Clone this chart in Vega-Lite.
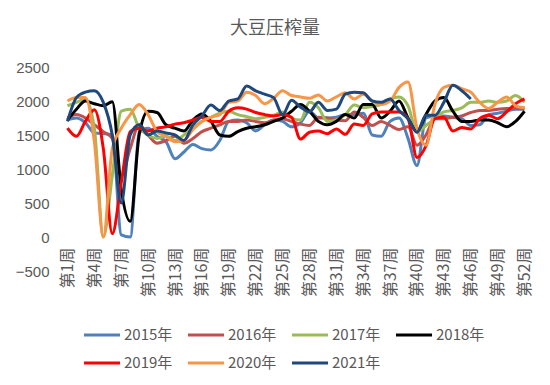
{
  "$schema": "https://vega.github.io/schema/vega-lite/v6.json",
  "width": 466,
  "height": 204,
  "autosize": {"type": "none"},
  "padding": {"left": 63, "top": 67, "right": 21, "bottom": 114},
  "background": "white",
  "title": {"text": "大豆压榨量", "fontSize": 18, "font": "Noto Sans CJK SC", "fontWeight": "normal", "color": "#595959", "anchor": "middle", "frame": "group", "dx": -21, "offset": 22},
  "config": {"view": {"stroke": null}, "font": "Noto Sans CJK SC"},
  "data": {"values": [
    {"s":"2015年","w":1,"v":1720},{"s":"2015年","w":2,"v":1750},{"s":"2015年","w":3,"v":1680},{"s":"2015年","w":4,"v":1530},{"s":"2015年","w":5,"v":1520},{"s":"2015年","w":6,"v":1500},{"s":"2015年","w":7,"v":30},{"s":"2015年","w":8,"v":0},{"s":"2015年","w":9,"v":1550},{"s":"2015年","w":10,"v":1600},
    {"s":"2015年","w":11,"v":1480},{"s":"2015年","w":12,"v":1400},{"s":"2015年","w":13,"v":1150},{"s":"2015年","w":14,"v":1250},{"s":"2015年","w":15,"v":1360},{"s":"2015年","w":16,"v":1300},{"s":"2015年","w":17,"v":1280},{"s":"2015年","w":18,"v":1420},{"s":"2015年","w":19,"v":1700},{"s":"2015年","w":20,"v":1720},
    {"s":"2015年","w":21,"v":1680},{"s":"2015年","w":22,"v":1560},{"s":"2015年","w":23,"v":1650},{"s":"2015年","w":24,"v":1720},{"s":"2015年","w":25,"v":1700},{"s":"2015年","w":26,"v":1620},{"s":"2015年","w":27,"v":1680},{"s":"2015年","w":28,"v":1850},{"s":"2015年","w":29,"v":1750},{"s":"2015年","w":30,"v":1750},
    {"s":"2015年","w":31,"v":1760},{"s":"2015年","w":32,"v":1800},{"s":"2015年","w":33,"v":1800},{"s":"2015年","w":34,"v":1820},{"s":"2015年","w":35,"v":1500},{"s":"2015年","w":36,"v":1480},{"s":"2015年","w":37,"v":1700},{"s":"2015年","w":38,"v":1750},{"s":"2015年","w":39,"v":1450},{"s":"2015年","w":40,"v":1050},
    {"s":"2015年","w":41,"v":1750},{"s":"2015年","w":42,"v":1780},{"s":"2015年","w":43,"v":1780},{"s":"2015年","w":44,"v":1760},{"s":"2015年","w":45,"v":1740},{"s":"2015年","w":46,"v":1640},{"s":"2015年","w":47,"v":1650},{"s":"2015年","w":48,"v":1800},{"s":"2015年","w":49,"v":1820},{"s":"2015年","w":50,"v":1850},
    {"s":"2015年","w":51,"v":1880},{"s":"2015年","w":52,"v":1880},

    {"s":"2016年","w":1,"v":1750},{"s":"2016年","w":2,"v":1800},{"s":"2016年","w":3,"v":1750},{"s":"2016年","w":4,"v":1650},{"s":"2016年","w":5,"v":1550},{"s":"2016年","w":6,"v":1450},{"s":"2016年","w":7,"v":900},{"s":"2016年","w":8,"v":1300},{"s":"2016年","w":9,"v":1650},{"s":"2016年","w":10,"v":1500},
    {"s":"2016年","w":11,"v":1380},{"s":"2016年","w":12,"v":1420},{"s":"2016年","w":13,"v":1480},{"s":"2016年","w":14,"v":1380},{"s":"2016年","w":15,"v":1450},{"s":"2016年","w":16,"v":1550},{"s":"2016年","w":17,"v":1600},{"s":"2016年","w":18,"v":1650},{"s":"2016年","w":19,"v":1700},{"s":"2016年","w":20,"v":1700},
    {"s":"2016年","w":21,"v":1720},{"s":"2016年","w":22,"v":1700},{"s":"2016年","w":23,"v":1680},{"s":"2016年","w":24,"v":1720},{"s":"2016年","w":25,"v":1740},{"s":"2016年","w":26,"v":1700},{"s":"2016年","w":27,"v":1660},{"s":"2016年","w":28,"v":1640},{"s":"2016年","w":29,"v":1760},{"s":"2016年","w":30,"v":1750},
    {"s":"2016年","w":31,"v":1720},{"s":"2016年","w":32,"v":1710},{"s":"2016年","w":33,"v":1840},{"s":"2016年","w":34,"v":1760},{"s":"2016年","w":35,"v":1640},{"s":"2016年","w":36,"v":1700},{"s":"2016年","w":37,"v":1640},{"s":"2016年","w":38,"v":1580},{"s":"2016年","w":39,"v":1620},{"s":"2016年","w":40,"v":1350},
    {"s":"2016年","w":41,"v":1500},{"s":"2016年","w":42,"v":1740},{"s":"2016年","w":43,"v":1740},{"s":"2016年","w":44,"v":1760},{"s":"2016年","w":45,"v":1780},{"s":"2016年","w":46,"v":1830},{"s":"2016年","w":47,"v":1860},{"s":"2016年","w":48,"v":1860},{"s":"2016年","w":49,"v":1880},{"s":"2016年","w":50,"v":1890},
    {"s":"2016年","w":51,"v":1890},{"s":"2016年","w":52,"v":1900},

    {"s":"2017年","w":1,"v":1930},{"s":"2017年","w":2,"v":1980},{"s":"2017年","w":3,"v":2030},{"s":"2017年","w":4,"v":1600},{"s":"2017年","w":5,"v":0},{"s":"2017年","w":6,"v":900},{"s":"2017年","w":7,"v":1850},{"s":"2017年","w":8,"v":1880},{"s":"2017年","w":9,"v":1600},{"s":"2017年","w":10,"v":1500},
    {"s":"2017年","w":11,"v":1450},{"s":"2017年","w":12,"v":1480},{"s":"2017年","w":13,"v":1420},{"s":"2017年","w":14,"v":1500},{"s":"2017年","w":15,"v":1600},{"s":"2017年","w":16,"v":1700},{"s":"2017年","w":17,"v":1760},{"s":"2017年","w":18,"v":1820},{"s":"2017年","w":19,"v":1850},{"s":"2017年","w":20,"v":1800},
    {"s":"2017年","w":21,"v":1770},{"s":"2017年","w":22,"v":1740},{"s":"2017年","w":23,"v":1760},{"s":"2017年","w":24,"v":1790},{"s":"2017年","w":25,"v":1840},{"s":"2017年","w":26,"v":1750},{"s":"2017年","w":27,"v":1720},{"s":"2017年","w":28,"v":1980},{"s":"2017年","w":29,"v":1900},{"s":"2017年","w":30,"v":1700},
    {"s":"2017年","w":31,"v":1720},{"s":"2017年","w":32,"v":1800},{"s":"2017年","w":33,"v":1940},{"s":"2017年","w":34,"v":1900},{"s":"2017年","w":35,"v":1920},{"s":"2017年","w":36,"v":1950},{"s":"2017年","w":37,"v":2030},{"s":"2017年","w":38,"v":2060},{"s":"2017年","w":39,"v":1930},{"s":"2017年","w":40,"v":1540},
    {"s":"2017年","w":41,"v":1640},{"s":"2017年","w":42,"v":1740},{"s":"2017年","w":43,"v":1840},{"s":"2017年","w":44,"v":1860},{"s":"2017年","w":45,"v":1900},{"s":"2017年","w":46,"v":1980},{"s":"2017年","w":47,"v":1980},{"s":"2017年","w":48,"v":2000},{"s":"2017年","w":49,"v":1980},{"s":"2017年","w":50,"v":2000},
    {"s":"2017年","w":51,"v":2080},{"s":"2017年","w":52,"v":1980},

    {"s":"2018年","w":1,"v":1720},{"s":"2018年","w":2,"v":1880},{"s":"2018年","w":3,"v":2000},{"s":"2018年","w":4,"v":1960},{"s":"2018年","w":5,"v":1930},{"s":"2018年","w":6,"v":1990},{"s":"2018年","w":7,"v":700},{"s":"2018年","w":8,"v":230},{"s":"2018年","w":9,"v":1500},{"s":"2018年","w":10,"v":1850},
    {"s":"2018年","w":11,"v":1830},{"s":"2018年","w":12,"v":1650},{"s":"2018年","w":13,"v":1600},{"s":"2018年","w":14,"v":1560},{"s":"2018年","w":15,"v":1720},{"s":"2018年","w":16,"v":1810},{"s":"2018年","w":17,"v":1700},{"s":"2018年","w":18,"v":1500},{"s":"2018年","w":19,"v":1480},{"s":"2018年","w":20,"v":1550},
    {"s":"2018年","w":21,"v":1600},{"s":"2018年","w":22,"v":1620},{"s":"2018年","w":23,"v":1650},{"s":"2018年","w":24,"v":1700},{"s":"2018年","w":25,"v":1750},{"s":"2018年","w":26,"v":1850},{"s":"2018年","w":27,"v":1950},{"s":"2018年","w":28,"v":1850},{"s":"2018年","w":29,"v":1700},{"s":"2018年","w":30,"v":1650},
    {"s":"2018年","w":31,"v":1700},{"s":"2018年","w":32,"v":1800},{"s":"2018年","w":33,"v":1750},{"s":"2018年","w":34,"v":1950},{"s":"2018年","w":35,"v":1950},{"s":"2018年","w":36,"v":1750},{"s":"2018年","w":37,"v":1850},{"s":"2018年","w":38,"v":2000},{"s":"2018年","w":39,"v":1750},{"s":"2018年","w":40,"v":1550},
    {"s":"2018年","w":41,"v":1800},{"s":"2018年","w":42,"v":2000},{"s":"2018年","w":43,"v":2050},{"s":"2018年","w":44,"v":1850},{"s":"2018年","w":45,"v":1700},{"s":"2018年","w":46,"v":1700},{"s":"2018年","w":47,"v":1720},{"s":"2018年","w":48,"v":1720},{"s":"2018年","w":49,"v":1680},{"s":"2018年","w":50,"v":1620},
    {"s":"2018年","w":51,"v":1700},{"s":"2018年","w":52,"v":1850},

    {"s":"2019年","w":1,"v":1600},{"s":"2019年","w":2,"v":1480},{"s":"2019年","w":3,"v":1700},{"s":"2019年","w":4,"v":1870},{"s":"2019年","w":5,"v":1300},{"s":"2019年","w":6,"v":50},{"s":"2019年","w":7,"v":800},{"s":"2019年","w":8,"v":1550},{"s":"2019年","w":9,"v":1600},{"s":"2019年","w":10,"v":1560},
    {"s":"2019年","w":11,"v":1600},{"s":"2019年","w":12,"v":1620},{"s":"2019年","w":13,"v":1660},{"s":"2019年","w":14,"v":1680},{"s":"2019年","w":15,"v":1720},{"s":"2019年","w":16,"v":1760},{"s":"2019年","w":17,"v":1700},{"s":"2019年","w":18,"v":1700},{"s":"2019年","w":19,"v":1850},{"s":"2019年","w":20,"v":1900},
    {"s":"2019年","w":21,"v":1880},{"s":"2019年","w":22,"v":1830},{"s":"2019年","w":23,"v":1800},{"s":"2019年","w":24,"v":1780},{"s":"2019年","w":25,"v":1800},{"s":"2019年","w":26,"v":1760},{"s":"2019年","w":27,"v":1440},{"s":"2019年","w":28,"v":1540},{"s":"2019年","w":29,"v":1560},{"s":"2019年","w":30,"v":1520},
    {"s":"2019年","w":31,"v":1590},{"s":"2019年","w":32,"v":1510},{"s":"2019年","w":33,"v":1660},{"s":"2019年","w":34,"v":1640},{"s":"2019年","w":35,"v":1810},{"s":"2019年","w":36,"v":1840},{"s":"2019年","w":37,"v":1840},{"s":"2019年","w":38,"v":1840},{"s":"2019年","w":39,"v":1740},{"s":"2019年","w":40,"v":1170},
    {"s":"2019年","w":41,"v":1340},{"s":"2019年","w":42,"v":1740},{"s":"2019年","w":43,"v":1760},{"s":"2019年","w":44,"v":1560},{"s":"2019年","w":45,"v":1610},{"s":"2019年","w":46,"v":1590},{"s":"2019年","w":47,"v":1740},{"s":"2019年","w":48,"v":1790},{"s":"2019年","w":49,"v":1740},{"s":"2019年","w":50,"v":1840},
    {"s":"2019年","w":51,"v":1960},{"s":"2019年","w":52,"v":2030},

    {"s":"2020年","w":1,"v":2000},{"s":"2020年","w":2,"v":2050},{"s":"2020年","w":3,"v":2050},{"s":"2020年","w":4,"v":1400},{"s":"2020年","w":5,"v":0},{"s":"2020年","w":6,"v":1300},{"s":"2020年","w":7,"v":1600},{"s":"2020年","w":8,"v":1800},{"s":"2020年","w":9,"v":1950},{"s":"2020年","w":10,"v":1800},
    {"s":"2020年","w":11,"v":1550},{"s":"2020年","w":12,"v":1480},{"s":"2020年","w":13,"v":1400},{"s":"2020年","w":14,"v":1420},{"s":"2020年","w":15,"v":1580},{"s":"2020年","w":16,"v":1700},{"s":"2020年","w":17,"v":1760},{"s":"2020年","w":18,"v":1800},{"s":"2020年","w":19,"v":1980},{"s":"2020年","w":20,"v":2000},
    {"s":"2020年","w":21,"v":2130},{"s":"2020年","w":22,"v":2080},{"s":"2020年","w":23,"v":1960},{"s":"2020年","w":24,"v":2040},{"s":"2020年","w":25,"v":2150},{"s":"2020年","w":26,"v":2080},{"s":"2020年","w":27,"v":2060},{"s":"2020年","w":28,"v":2040},{"s":"2020年","w":29,"v":2090},{"s":"2020年","w":30,"v":2000},
    {"s":"2020年","w":31,"v":2060},{"s":"2020年","w":32,"v":2120},{"s":"2020年","w":33,"v":2030},{"s":"2020年","w":34,"v":2100},{"s":"2020年","w":35,"v":2000},{"s":"2020年","w":36,"v":1950},{"s":"2020年","w":37,"v":2000},{"s":"2020年","w":38,"v":2200},{"s":"2020年","w":39,"v":2280},{"s":"2020年","w":40,"v":1600},
    {"s":"2020年","w":41,"v":1350},{"s":"2020年","w":42,"v":1950},{"s":"2020年","w":43,"v":2200},{"s":"2020年","w":44,"v":2230},{"s":"2020年","w":45,"v":2180},{"s":"2020年","w":46,"v":2130},{"s":"2020年","w":47,"v":1980},{"s":"2020年","w":48,"v":1890},{"s":"2020年","w":49,"v":1980},{"s":"2020年","w":50,"v":2060},
    {"s":"2020年","w":51,"v":1930},{"s":"2020年","w":52,"v":1900},

    {"s":"2021年","w":1,"v":1700},{"s":"2021年","w":2,"v":2050},{"s":"2021年","w":3,"v":2130},{"s":"2021年","w":4,"v":2150},{"s":"2021年","w":5,"v":1980},{"s":"2021年","w":6,"v":1500},{"s":"2021年","w":7,"v":500},{"s":"2021年","w":8,"v":1500},{"s":"2021年","w":9,"v":1650},{"s":"2021年","w":10,"v":1500},
    {"s":"2021年","w":11,"v":1560},{"s":"2021年","w":12,"v":1530},{"s":"2021年","w":13,"v":1500},{"s":"2021年","w":14,"v":1420},{"s":"2021年","w":15,"v":1650},{"s":"2021年","w":16,"v":1780},{"s":"2021年","w":17,"v":1940},{"s":"2021年","w":18,"v":1860},{"s":"2021年","w":19,"v":2000},{"s":"2021年","w":20,"v":2030},
    {"s":"2021年","w":21,"v":2220},{"s":"2021年","w":22,"v":2150},{"s":"2021年","w":23,"v":2100},{"s":"2021年","w":24,"v":2050},{"s":"2021年","w":25,"v":1800},{"s":"2021年","w":26,"v":2010},{"s":"2021年","w":27,"v":1910},{"s":"2021年","w":28,"v":1840},{"s":"2021年","w":29,"v":1980},{"s":"2021年","w":30,"v":1860},
    {"s":"2021年","w":31,"v":1880},{"s":"2021年","w":32,"v":2100},{"s":"2021年","w":33,"v":2130},{"s":"2021年","w":34,"v":2120},{"s":"2021年","w":35,"v":2000},{"s":"2021年","w":36,"v":1980},{"s":"2021年","w":37,"v":2030},{"s":"2021年","w":38,"v":1860},{"s":"2021年","w":39,"v":1740},{"s":"2021年","w":40,"v":1540},
    {"s":"2021年","w":41,"v":1790},{"s":"2021年","w":42,"v":1790},{"s":"2021年","w":43,"v":1980},{"s":"2021年","w":44,"v":2230},{"s":"2021年","w":45,"v":2150},{"s":"2021年","w":46,"v":2030}
  ]},
  "mark": {"type": "line", "interpolate": "monotone", "strokeWidth": 3},
  "encoding": {
    "x": {
      "field": "w", "type": "quantitative",
      "scale": {"domain": [0.5, 52.5], "nice": false, "zero": false},
      "axis": {
        "title": null, "values": [1,4,7,10,13,16,19,22,25,28,31,34,37,40,43,46,49,52],
        "labelExpr": "'第' + datum.value + '周'",
        "labelAngle": -90, "labelFontSize": 16, "labelColor": "#595959", "labelFont": "Noto Sans CJK SC",
        "domain": false, "ticks": false, "grid": false, "offset": -34, "labelPadding": 10
      }
    },
    "y": {
      "field": "v", "type": "quantitative",
      "scale": {"domain": [-500, 2500], "nice": false, "zero": false},
      "axis": {
        "title": null, "values": [-500, 0, 500, 1000, 1500, 2000, 2500], "format": "d",
        "labelFontSize": 15, "labelColor": "#595959", "labelFont": "Liberation Sans",
        "domain": false, "ticks": false, "grid": false, "labelPadding": 14
      }
    },
    "color": {
      "field": "s", "type": "nominal",
      "scale": {
        "domain": ["2015年","2016年","2017年","2018年","2019年","2020年","2021年"],
        "range": ["#4F81BD","#C0504D","#9BBB59","#000000","#FF0000","#F79646","#1F497D"]
      },
      "legend": {
        "title": null, "orient": "none", "legendX": 19, "legendY": 248, "columns": 4, "direction": "horizontal",
        "symbolType": "stroke", "symbolSize": 1300, "symbolStrokeWidth": 3,
        "labelFontSize": 15, "labelColor": "#595959", "labelFont": "Noto Sans CJK SC",
        "columnPadding": 8, "rowPadding": 0, "labelOffset": 2
      }
    }
  }
}
